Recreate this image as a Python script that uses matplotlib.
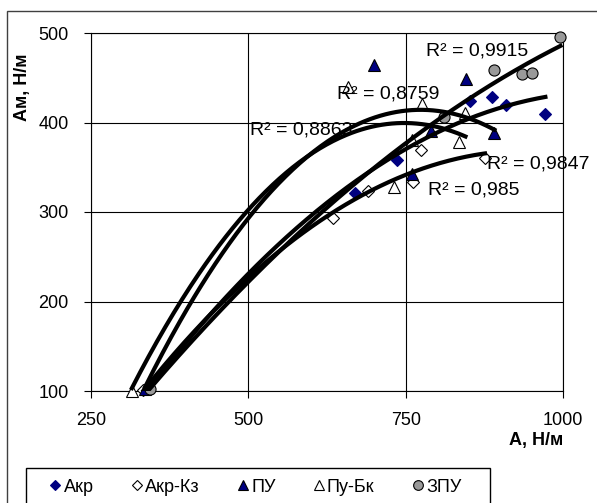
import numpy as np
import matplotlib
matplotlib.use("Agg")
import matplotlib.pyplot as plt
from matplotlib.patches import Rectangle
from matplotlib.lines import Line2D

plt.rcParams['font.family'] = ['Liberation Sans', 'DejaVu Sans']

# data (A, N/m ; Am, N/m)
akr_x = [338, 670, 736, 852, 887, 910, 972]
akr_y = [102, 321, 358, 424, 429, 419, 410]

akrkz_x = [333, 635, 690, 761, 775, 876]
akrkz_y = [101, 293, 324, 333, 369, 360]

pu_x = [336, 700, 760, 791, 846, 891]
pu_y = [102, 464, 342, 390, 449, 388]

pubk_x = [315, 658, 731, 760, 776, 835, 845]
pubk_y = [100, 440, 328, 380, 421, 378, 411]

zpu_x = [343, 811, 891, 935, 950, 996]
zpu_y = [102, 406, 459, 454, 455, 495]

r2_labels = ["R² = 0,9915", "R² = 0,8759", "R² = 0,8863", "R² = 0,9847", "R² = 0,985"]
r2_pos = [(783, 480), (641, 432), (503, 392), (879, 354), (786, 325)]

x_ticks = [250, 500, 750, 1000]
y_ticks = [100, 200, 300, 400, 500]

fig = plt.figure(figsize=(5.97, 5.03), dpi=100)
ax = fig.add_axes([91/597, 1 - 391/503, (563-91)/597, (391-33)/503])

series = [
    (akr_x, akr_y, dict(marker='D', color='#000080', mec='#000080', ms=6)),
    (akrkz_x, akrkz_y, dict(marker='D', color='white', mec='black', ms=6)),
    (pu_x, pu_y, dict(marker='^', color='#000080', mec='black', ms=8)),
    (pubk_x, pubk_y, dict(marker='^', color='white', mec='black', ms=8)),
    (zpu_x, zpu_y, dict(marker='o', color='#999999', mec='black', ms=8)),
]
names = ["Акр", "Акр-Кз", "ПУ", "Пу-Бк", "ЗПУ"]

for xs, ys, st in series:
    ax.plot(xs, ys, linestyle='none', marker=st['marker'], mfc=st['color'],
            mec=st['mec'], ms=st['ms'], mew=0.8, clip_on=False, zorder=3)

# polynomial (2nd order) trendlines like excel
for xs, ys, st in series:
    c = np.polyfit(xs, ys, 2)
    xx = np.linspace(min(xs), max(xs), 200)
    ax.plot(xx, np.polyval(c, xx), color='black', lw=3, zorder=4)

for txt, (tx, ty) in zip(r2_labels, r2_pos):
    ax.text(tx, ty, txt, fontsize=14, va='center', ha='left', zorder=5, clip_on=False)

ax.set_xlim(250, 1000)
ax.set_ylim(100, 500)
ax.set_xticks(x_ticks)
ax.set_yticks(y_ticks)
ax.grid(True, color='black', lw=0.8)
ax.set_axisbelow(True)
for s in ax.spines.values():
    s.set_color('black')
    s.set_linewidth(0.8)
ax.tick_params(direction='out', length=5, width=0.8, labelsize=13)
ax.tick_params(axis='y', pad=11)
ax.tick_params(axis='x', pad=10)

fig.text(563/597, 1 - 440/503, "А, Н/м", fontsize=13, fontweight='bold', ha='right', va='center')
fig.text(22/597, 1 - 87/503, "Ам, Н/м", fontsize=13, fontweight='bold', rotation=90,
         ha='center', va='center')

# outer chart frame
fig.patches.append(Rectangle((7/597, -0.1), 1.2, 1.1 - 11/503, transform=fig.transFigure,
                             fill=False, edgecolor='#404040', lw=1))
# legend frame (runs off the bottom edge)
fig.patches.append(Rectangle((26/597, -0.1), (490-26)/597, 0.1 + 1 - 468/503,
                             transform=fig.transFigure, fill=False, edgecolor='black', lw=1))

handles = [Line2D([], [], linestyle='none', marker=st['marker'], mfc=st['color'],
                  mec=st['mec'], ms=st['ms'] - 1, mew=0.8) for _, _, st in series]
leg = fig.legend(handles, names, loc='center left', bbox_to_anchor=(50/597, 1 - 487/503),
                 ncol=5, fontsize=13, frameon=False, borderaxespad=0, borderpad=0,
                 handlelength=0.6, handletextpad=0.15, columnspacing=2.1)

fig.savefig("out.png", dpi=100)
